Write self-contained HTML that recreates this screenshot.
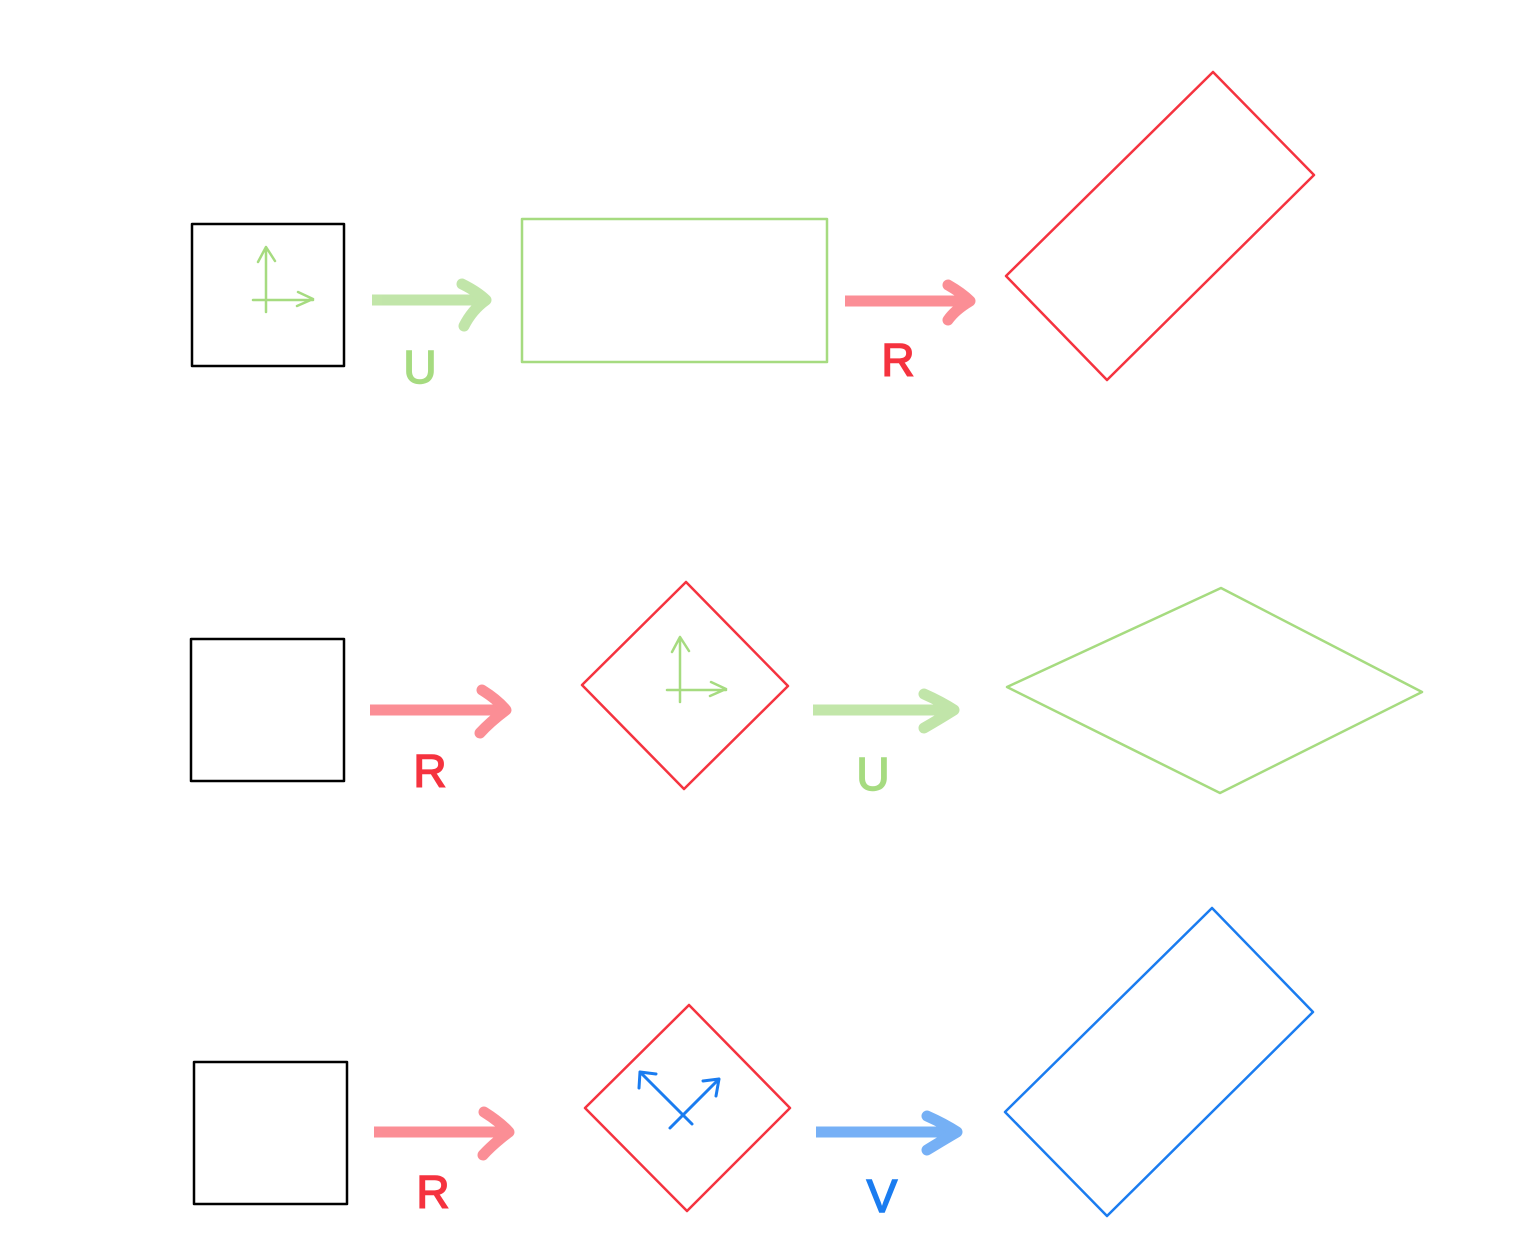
<!DOCTYPE html>
<html><head><style>
html,body{margin:0;padding:0;background:#fff;}
svg{display:block;}
text{font-family:"Liberation Sans",sans-serif;font-size:46px;stroke-width:1.5;}
</style></head><body>
<svg width="1536" height="1254" viewBox="0 0 1536 1254" xmlns="http://www.w3.org/2000/svg">
<g fill="none" stroke-linecap="round" stroke-linejoin="round">
<!-- Row 1 -->
<rect x="192" y="224" width="152" height="142" stroke="#000" stroke-width="2.5"/>
<g stroke="#a6db80" stroke-width="2.5">
<path d="M266 312 V248 M258 262 L266 247 L275 261"/>
<path d="M253 300 H313 M298 292 L313 299 L297 306"/>
</g>
<g stroke="#8fd163" stroke-width="11" opacity="0.55">
<path d="M372 300 H482" stroke-linecap="butt"/>
<path d="M462 284 Q478 292 486 300 Q472 310 464 326"/>
</g>
<rect x="522" y="219" width="305" height="143" stroke="#a6db80" stroke-width="2.5"/>
<g stroke="#f8323f" stroke-width="11" opacity="0.55">
<path d="M845 301 H968" stroke-linecap="butt"/>
<path d="M948 285 Q962 293 970 301 Q955 310 948 320"/>
</g>
<polygon points="1213,72 1314,175 1107,380 1006,276" stroke="#f5333f" stroke-width="2.5"/>
<!-- Row 2 -->
<rect x="191" y="639" width="153" height="142" stroke="#000" stroke-width="2.5"/>
<g stroke="#f8323f" stroke-width="11" opacity="0.55">
<path d="M370 710 H504" stroke-linecap="butt"/>
<path d="M482 690 Q498 700 506 710 Q490 722 480 733"/>
</g>
<polygon points="686,582 788,686 684,789 582,685" stroke="#f5333f" stroke-width="2.5"/>
<g stroke="#a6db80" stroke-width="2.5">
<path d="M680 702 V637 M672 652 L680 637 L689 651"/>
<path d="M667 690 H726 M711 682 L726 689 L710 696"/>
</g>
<g stroke="#8fd163" stroke-width="11" opacity="0.55">
<path d="M813 710 H952" stroke-linecap="butt"/>
<path d="M924 694 Q942 702 954 710 Q938 720 924 728"/>
</g>
<polygon points="1221,588 1422,692 1220,793 1007,687" stroke="#a6db80" stroke-width="2.5"/>
<!-- Row 3 -->
<rect x="194" y="1062" width="153" height="142" stroke="#000" stroke-width="2.5"/>
<g stroke="#f8323f" stroke-width="11" opacity="0.55">
<path d="M374 1132 H507" stroke-linecap="butt"/>
<path d="M484 1112 Q500 1122 509 1132 Q493 1144 483 1155"/>
</g>
<polygon points="689,1005 790,1108 687,1211 585,1108" stroke="#f5333f" stroke-width="2.5"/>
<g stroke="#1a7cf0" stroke-width="3">
<path d="M692 1124 L640 1072 M639 1088 L640 1072 L656 1074"/>
<path d="M670 1128 L719 1079 M703 1081 L719 1079 L716 1096"/>
</g>
<g stroke="#1a7cf0" stroke-width="11" opacity="0.6">
<path d="M816 1132 H955" stroke-linecap="butt"/>
<path d="M927 1116 Q945 1124 957 1132 Q940 1142 927 1150"/>
</g>
<polygon points="1212,908 1313,1012 1107,1216 1005,1112" stroke="#1a7cf0" stroke-width="2.5"/>
</g>
<text x="420" y="383" text-anchor="middle" fill="#a6db80" stroke="#a6db80">U</text>
<text x="898" y="376" text-anchor="middle" fill="#f5333f" stroke="#f5333f">R</text>
<text x="430" y="787" text-anchor="middle" fill="#f5333f" stroke="#f5333f">R</text>
<text x="873" y="790" text-anchor="middle" fill="#a6db80" stroke="#a6db80">U</text>
<text x="433" y="1208" text-anchor="middle" fill="#f5333f" stroke="#f5333f">R</text>
<text x="882" y="1212" text-anchor="middle" fill="#1a7cf0" stroke="#1a7cf0">V</text>
</svg>
</body></html>
